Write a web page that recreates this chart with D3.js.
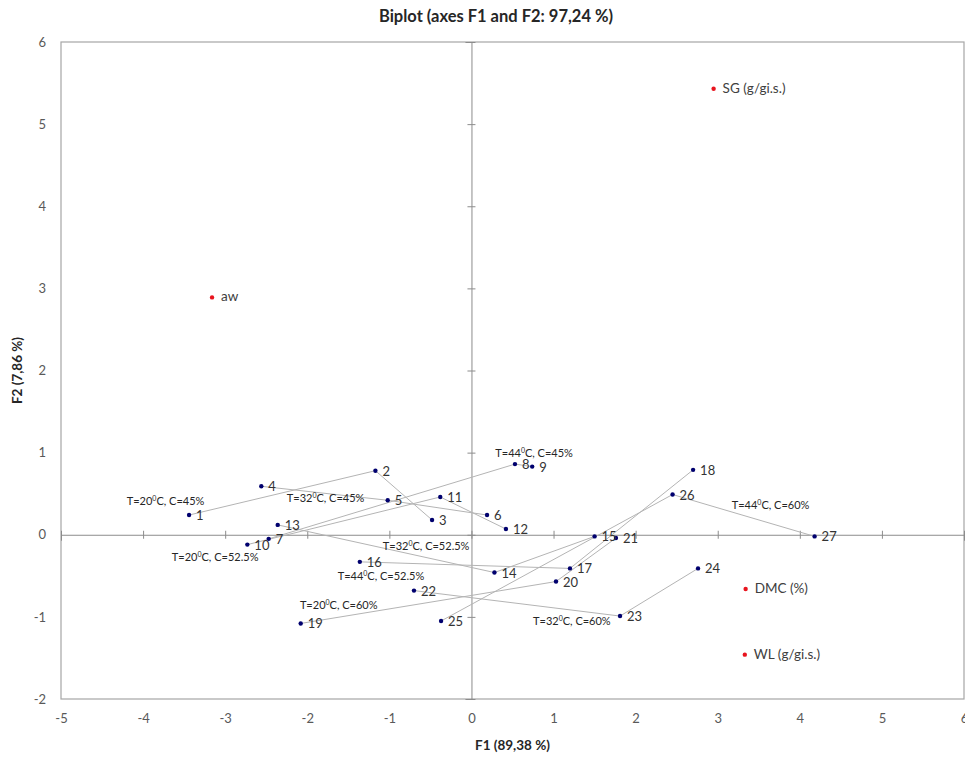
<!DOCTYPE html>
<html>
<head>
<meta charset="utf-8">
<script src="https://cdn.jsdelivr.net/npm/d3@7"></script>
<style>
    body { margin: 0; background: white; }
    svg { display: block; font-family: Lato, "Open Sans", sans-serif; }
</style>
</head>
<body>
<svg id="chart" width="965" height="760"></svg>
<script>
// Observations (27 runs), F1 / F2 scores
let obsIds = d3.range(1, 28);
let obsF1 = [-3.44, -1.17, -0.48, -2.56, -1.02, 0.19, -2.47, 0.53, 0.74,
             -2.73, -0.38, 0.42, -2.36, 0.28, 1.50, -1.36, 1.20, 2.70,
             -2.08, 1.03, 1.76, -0.70, 1.81, 2.76, -0.37, 2.45, 4.18];
let obsF2 = [0.24, 0.78, 0.18, 0.59, 0.42, 0.24, -0.05, 0.86, 0.83,
             -0.12, 0.46, 0.07, 0.12, -0.46, -0.02, -0.33, -0.41, 0.79,
             -1.08, -0.57, -0.04, -0.68, -0.99, -0.41, -1.05, 0.49, -0.02];

// Active variables
let varNames = ["SG (g/gi.s.)", "aw", "DMC (%)", "WL (g/gi.s.)"];
let varF1 = [2.95, -3.16, 3.34, 3.33];
let varF2 = [5.43, 2.89, -0.66, -1.46];

// Groups of three consecutive runs
let groupTemp = ["20", "32", "44", "20", "32", "44", "20", "32", "44"];
let groupConc = ["45%", "45%", "45%", "52.5%", "52.5%", "52.5%", "60%", "60%", "60%"];

// Where each group label sits (data units, left / baseline)
let groupLabelF1 = [-4.20, -2.25, 0.29, -3.65, -1.08, -1.63, -2.09, 0.75, 3.17];
let groupLabelF2 = [0.36, 0.40, 0.95, -0.32, -0.185, -0.545, -0.90, -1.10, 0.31];

let xTicks = d3.range(-5, 7);
let yTicks = d3.range(-2, 7);

let margin = {left: 61, right: 1, top: 42, bottom: 61};
let width = 965, height = 760;

let svg = d3.select("#chart");

let x = d3.scaleLinear()
    .domain([-5, 6])
    .range([margin.left, width - margin.right]);
let y = d3.scaleLinear()
    .domain([-2, 6])
    .range([height - margin.bottom, margin.top]);

// Title
svg.append("text")
.text("Biplot (axes F1 and F2: 97,24 %)")
.attr("x", 496)
.attr("y", 22)
.attr("text-anchor", "middle")
.style("font-size", "16.5px")
.style("font-weight", "bold")
.style("fill", "#262626");

// Frame
svg.append("rect")
.attr("x", x(-5))
.attr("y", y(6))
.attr("width", x(6) - x(-5))
.attr("height", y(-2) - y(6))
.style("fill", "none")
.style("stroke", "#a6a6a6")
.style("stroke-width", 1.2);

// Tick labels on the frame (plain hyphen for negatives)
let plain = d => d.toString();

let bottomAxis = svg.append("g")
.attr("transform", `translate(0,${y(-2)})`)
.call(d3.axisBottom(x).tickValues(xTicks).tickFormat(plain).tickSize(0).tickPadding(15));
bottomAxis.select(".domain").remove();

let leftAxis = svg.append("g")
.attr("transform", `translate(${x(-5)},0)`)
.call(d3.axisLeft(y).tickValues(yTicks).tickFormat(plain).tickSize(0).tickPadding(15));
leftAxis.select(".domain").remove();

svg.selectAll(".tick text")
.style("font-family", "Lato, sans-serif")
.style("font-size", "13px")
.style("fill", "#595959");

// Axes through the origin, ticks crossing the line
let xZero = svg.append("g")
.attr("transform", `translate(0,${y(0)})`)
.call(d3.axisBottom(x).tickValues(xTicks).tickFormat(""));
let yZero = svg.append("g")
.attr("transform", `translate(${x(0)},0)`)
.call(d3.axisLeft(y).tickValues(yTicks).tickFormat(""));

xZero.selectAll(".tick line").attr("y1", -4).attr("y2", 4);
yZero.selectAll(".tick line").attr("x1", -4).attr("x2", 4);
[xZero, yZero].forEach(function(ax) {
    ax.select(".domain").attr("stroke", "#8c8c8c");
    ax.selectAll(".tick line").attr("stroke", "#8c8c8c");
});

// Axis titles
svg.append("text")
.text("F1 (89,38 %)")
.attr("x", (x(-5) + x(6)) / 2)
.attr("y", 750)
.attr("text-anchor", "middle")
.style("font-size", "13.5px")
.style("font-weight", "bold")
.style("fill", "#262626");

svg.append("text")
.text("F2 (7,86 %)")
.attr("transform", `translate(22,${(y(-2) + y(6)) / 2}) rotate(-90)`)
.attr("text-anchor", "middle")
.style("font-size", "13.5px")
.style("font-weight", "bold")
.style("fill", "#262626");

// Lines joining the three runs of each group
let segments = [];
obsIds.forEach(function(id, i) {
    if (i % 3 != 2) {
        segments.push([i, i + 1]);
    }
});

svg.append("g")
.selectAll("line")
.data(segments)
.join("line")
.attr("x1", d => x(obsF1[d[0]]))
.attr("y1", d => y(obsF2[d[0]]))
.attr("x2", d => x(obsF1[d[1]]))
.attr("y2", d => y(obsF2[d[1]]))
.style("stroke", "#b4b4b4")
.style("stroke-width", 1);

// Group labels
let groupText = svg.append("g")
.selectAll("text")
.data(groupTemp)
.join("text")
.attr("x", (d, i) => x(groupLabelF1[i]))
.attr("y", (d, i) => y(groupLabelF2[i]))
.style("font-size", "11px")
.style("fill", "#262626");

groupText.append("tspan").text(d => "T=" + d);
groupText.append("tspan")
.text("0")
.attr("dy", -4)
.style("font-size", "7px");
groupText.append("tspan")
.text((d, i) => "C, C=" + groupConc[i])
.attr("dy", 4);

// Observation points
svg.append("g")
.selectAll("circle")
.data(obsIds)
.join("circle")
.attr("cx", (d, i) => x(obsF1[i]))
.attr("cy", (d, i) => y(obsF2[i]))
.attr("r", 2.2)
.style("fill", "#00006e");

svg.append("g")
.selectAll("text")
.data(obsIds)
.join("text")
.text(d => d)
.attr("x", (d, i) => x(obsF1[i]) + 7)
.attr("y", (d, i) => y(obsF2[i]) + 5)
.style("font-size", "13px")
.style("fill", "#333333");

// Variable points
svg.append("g")
.selectAll("circle")
.data(varNames)
.join("circle")
.attr("cx", (d, i) => x(varF1[i]))
.attr("cy", (d, i) => y(varF2[i]))
.attr("r", 2.2)
.style("fill", "#e8141e");

svg.append("g")
.selectAll("text")
.data(varNames)
.join("text")
.text(d => d)
.attr("x", (d, i) => x(varF1[i]) + 9)
.attr("y", (d, i) => y(varF2[i]) + 4)
.style("font-size", "13.5px")
.style("fill", "#404040");
</script>
</body>
</html>
